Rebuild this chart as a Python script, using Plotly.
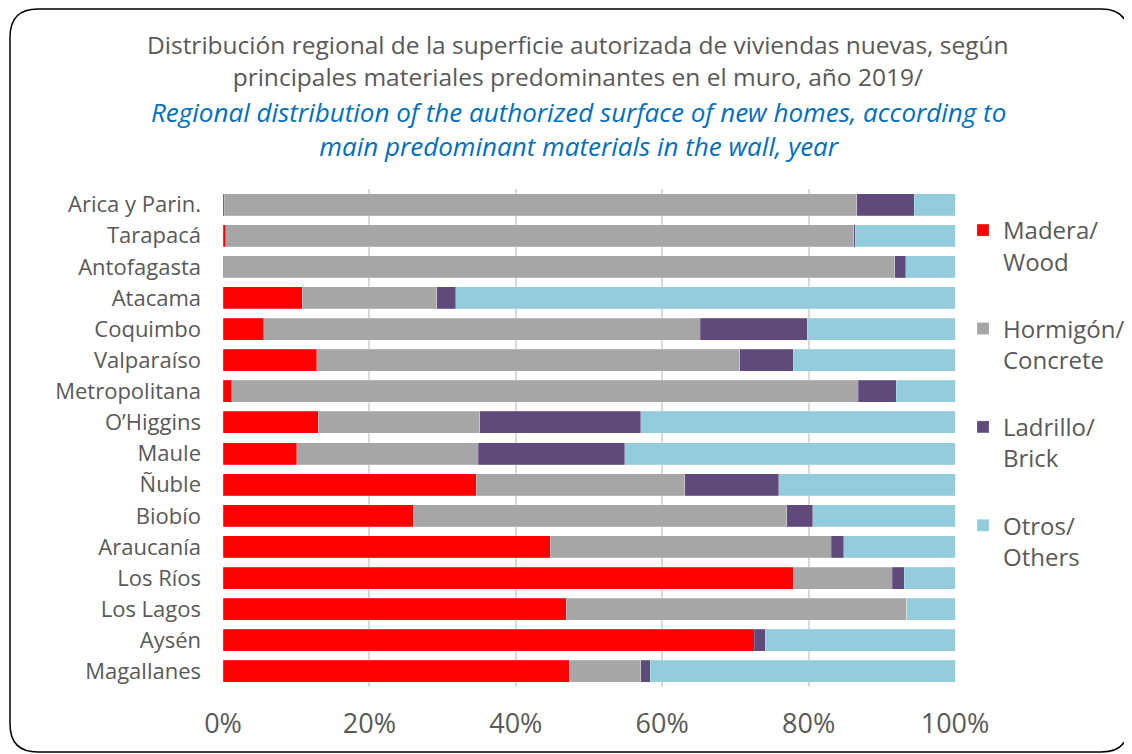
import plotly.graph_objects as go

regions = [
    "Arica y Parin.", "Tarapacá", "Antofagasta", "Atacama", "Coquimbo",
    "Valparaíso", "Metropolitana", "O’Higgins", "Maule", "Ñuble", "Biobío",
    "Araucanía", "Los Ríos", "Los Lagos", "Aysén", "Magallanes",
]
madera = [0.2, 0.4, 0.1, 10.8, 5.6, 12.8, 1.2, 13.0, 10.1, 34.6, 26.0, 44.7, 77.9, 46.9, 72.6, 47.3]
hormigon = [86.4, 85.8, 91.7, 18.4, 59.6, 57.8, 85.6, 22.1, 24.8, 28.5, 51.0, 38.4, 13.5, 46.5, 0.0, 9.8]
ladrillo = [7.8, 0.2, 1.5, 2.6, 14.6, 7.3, 5.2, 22.0, 20.0, 12.8, 3.6, 1.7, 1.7, 0.0, 1.5, 1.3]
otros = [5.6, 13.6, 6.7, 68.2, 20.2, 22.1, 8.0, 42.9, 45.1, 24.1, 19.4, 15.2, 6.9, 6.6, 25.9, 41.6]

series = [
    ("Madera/<br>Wood", madera, "#FF0000"),
    ("Hormigón/<br>Concrete", hormigon, "#A6A6A6"),
    ("Ladrillo/<br>Brick", ladrillo, "#604A7B"),
    ("Otros/<br>Others", otros, "#93CDDD"),
]

# the page body has an 8px margin, so the figure is drawn 8px in
OFF = 8
W, H = 1132 - OFF, 754 - OFF
L, R, T, B = 223 - OFF, 955 - OFF, 189 - OFF, 687 - OFF
FONT = "Open Sans, Liberation Sans, Arial"


def px(x):
    return (x - OFF - L) / (R - L)


def py(y):
    return (B - (y - OFF)) / (B - T)


fig = go.Figure()
for i, (name, vals, color) in enumerate(series):
    fig.add_trace(go.Bar(
        y=regions, x=vals, name=name, orientation="h",
        marker=dict(color=color, line=dict(color="rgba(255,255,255,0.4)", width=0.5)),
        legendgroup=str(i),
    ))

title_es = ("Distribución regional de la superficie autorizada de viviendas nuevas, según"
            "<br>principales materiales predominantes en el muro, año 2019/")
title_en = ("<i>Regional distribution of the authorized surface of new homes, according to"
            "<br>main predominant materials in the wall, year</i>")
fig.add_annotation(
    text=title_es, xref="paper", yref="paper", x=px(578), y=py(26),
    xanchor="center", yanchor="top", showarrow=False, align="center",
    font=dict(family=FONT, size=24.5, color="#595959"),
)
fig.add_annotation(
    text=title_en, xref="paper", yref="paper", x=px(578), y=py(92),
    xanchor="center", yanchor="top", showarrow=False, align="center",
    font=dict(family=FONT, size=26, color="#0070C0"),
)

# rounded outer border
x0, x1, y0, y1, r = px(10), px(1129), py(9), py(752), 28
rx, ry = r / (R - L), r / (B - T)
path = (
    f"M {x0},{y0 - ry} Q {x0},{y0} {x0 + rx},{y0} "
    f"L {x1 - rx},{y0} Q {x1},{y0} {x1},{y0 - ry} "
    f"L {x1},{y1 + ry} Q {x1},{y1} {x1 - rx},{y1} "
    f"L {x0 + rx},{y1} Q {x0},{y1} {x0},{y1 + ry} Z"
)
fig.add_shape(type="path", path=path, xref="paper", yref="paper",
              line=dict(color="#000000", width=1.5), layer="above")

fig.update_layout(
    barmode="stack",
    bargap=0.29,
    width=W, height=H,
    margin=dict(l=L, r=W - R, t=T, b=H - B, autoexpand=False),
    paper_bgcolor="white", plot_bgcolor="white",
    font=dict(family=FONT, color="#595959"),
    showlegend=True,
    legend=dict(
        x=px(963), y=py(208), xanchor="left", yanchor="top",
        font=dict(size=24, color="#595959"), valign="top",
        tracegroupgap=33, itemwidth=30, bgcolor="rgba(0,0,0,0)",
    ),
    xaxis=dict(
        range=[0, 100], tickvals=[0, 20, 40, 60, 80, 100],
        ticktext=["0%", "20%", "40%", "60%", "80%", "100%"],
        showgrid=True, gridcolor="#D9D9D9", gridwidth=1.5,
        zeroline=False, showline=False, ticks="",
        tickfont=dict(size=27, color="#595959"), ticklabelstandoff=18,
    ),
    yaxis=dict(
        autorange="reversed", showgrid=False, ticks="",
        tickfont=dict(size=22, color="#595959"), ticklabelstandoff=21,
    ),
)

fig.write_html("out.html")
